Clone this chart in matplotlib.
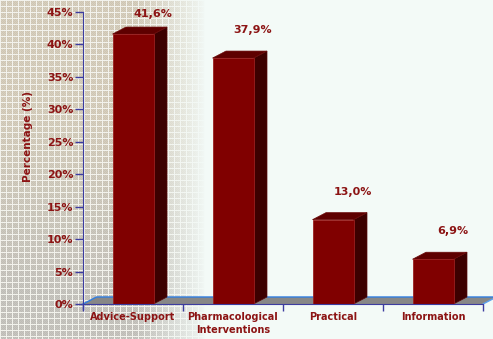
import numpy as np
import matplotlib
matplotlib.use("Agg")
import matplotlib.pyplot as plt
from matplotlib.patches import Polygon

categories = ["Advice-Support", "Pharmacological\nInterventions", "Practical", "Information"]
values = [41.6, 37.9, 13.0, 6.9]
value_labels = ["41,6%", "37,9%", "13,0%", "6,9%"]
yticks = [0, 5, 10, 15, 20, 25, 30, 35, 40, 45]
ytick_labels = ["0%", "5%", "10%", "15%", "20%", "25%", "30%", "35%", "40%", "45%"]

W, H = 493, 339
TEXT = "#8c1414"
AXIS = "#3c3ca0"
EDGE = "#2f7de0"

fig = plt.figure(figsize=(W / 100, H / 100), dpi=100)

# textured paper on the left fading into a pale mint background
yy, xx = np.mgrid[0:H, 0:W]
tex = np.empty((H, W, 3))
tan = np.array([216, 208, 190]) / 255
gray = np.array([196, 196, 193]) / 255
mix = np.clip((yy - 120) / 180, 0, 1)[..., None] * 0.8
tex[:] = tan * (1 - mix) + gray * mix
dots = ((xx + yy) % 2 == 0)[..., None]
tex = np.where(dots, tex * 0.95, tex)
lines = ((xx % 6 == 0) | (yy % 6 == 0))[..., None]
tex = np.where(lines, np.array([242, 242, 236]) / 255, tex)
bg = np.array([243, 250, 247]) / 255
t = np.clip((205 - xx) / 70, 0, 1)[..., None] ** 0.8
img = t * tex + (1 - t) * bg

bg_ax = fig.add_axes([0, 0, 1, 1], zorder=-10)
bg_ax.imshow(img, aspect="auto", interpolation="nearest")
bg_ax.axis("off")

ax = fig.add_axes([83 / W, (H - 304) / H, 400 / W, 292 / H])
ax.set_facecolor("none")
ax.set_xlim(0, 4)
ax.set_ylim(0, 45)

n = len(values)
centers = np.arange(n) + 0.5
half = 0.205
dx, dy = 0.135, 1.08

# floor under the bars
floor = Polygon([(0, 0), (n, 0), (n + dx, dy), (dx, dy)], closed=True,
                facecolor="#878787", edgecolor="none", clip_on=False, zorder=1)
ax.add_patch(floor)
ax.plot([0, dx, n + dx], [0, dy, dy], color=EDGE, lw=1.0, clip_on=False, zorder=2)
ax.plot([n, n + dx], [0, dy], color="#5aa0f0", lw=1.0, clip_on=False, zorder=2)

# bars: front face, side and top
ax.bar(centers, values, width=2 * half, color="#800000",
       edgecolor="#9a2020", linewidth=0.6, zorder=4)
for c, v in zip(centers, values):
    x0, x1 = c - half, c + half
    side = Polygon([(x1, 0), (x1 + dx, dy), (x1 + dx, v + dy), (x1, v)],
                   facecolor="#3c0000", edgecolor="#5a0a0a", lw=0.5, zorder=3)
    top = Polygon([(x0, v), (x1, v), (x1 + dx, v + dy), (x0 + dx, v + dy)],
                  facecolor="#5e0000", edgecolor="#6a0a0a", lw=0.5, zorder=3)
    ax.add_patch(side)
    ax.add_patch(top)

for c, v, lab in zip(centers, values, value_labels):
    ax.text(c + 0.2, min(v + 4.3, 44.7), lab, ha="center", va="center",
            fontsize=8, fontweight="bold", color=TEXT, zorder=5, clip_on=False)

ax.set_yticks(yticks)
ax.set_yticklabels(ytick_labels)
ax.set_xticks(np.arange(n + 1))
ax.set_xticklabels([])
for c, lab in zip(centers, categories):
    ax.text(c, -1.3, lab, ha="center", va="top", fontsize=7,
            fontweight="bold", color=TEXT, linespacing=1.3, clip_on=False)

ax.tick_params(axis="y", direction="out", length=6, width=1, color=AXIS,
               labelcolor=TEXT, labelsize=8, pad=1)
ax.tick_params(axis="x", direction="out", length=5, width=1, color=AXIS)
for lab in ax.get_yticklabels():
    lab.set_fontweight("bold")

for s in ["top", "right"]:
    ax.spines[s].set_visible(False)
ax.spines["left"].set_color(AXIS)
ax.spines["bottom"].set_color(AXIS)
ax.spines["bottom"].set_zorder(6)
ax.plot([0, 0], [0, -0.8], color=AXIS, lw=1, clip_on=False)

fig.text(28 / W, 1 - 137 / H, "Percentage (%)", rotation=90, ha="center",
         va="center", fontsize=7.5, fontweight="bold", color=TEXT)

fig.savefig("out.png", dpi=100)
